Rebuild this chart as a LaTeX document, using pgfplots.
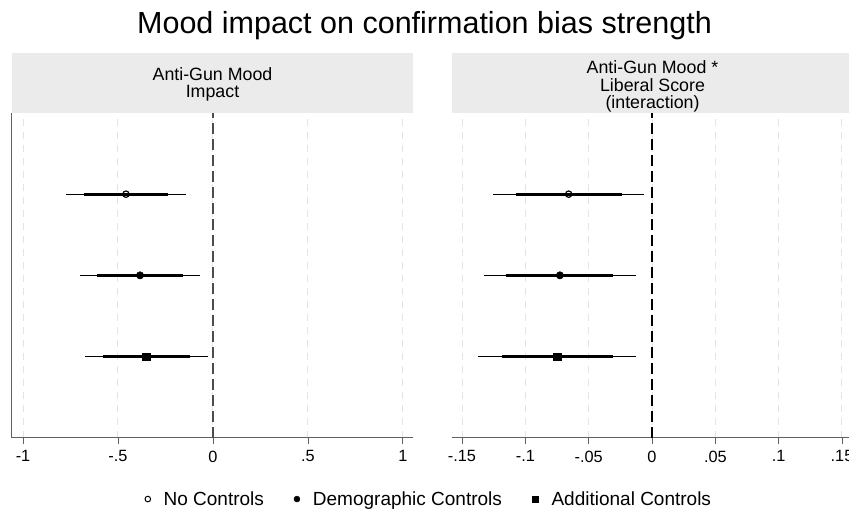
\documentclass[border=0pt]{standalone}
\usepackage{pgfplots}
\pgfplotsset{compat=1.18}
\usepackage{fontspec}
\setmainfont{Liberation Sans}
\definecolor{hdr}{HTML}{EBEBEB}
\definecolor{grd}{HTML}{E4E4E4}
\definecolor{axc}{HTML}{606060}
\definecolor{thin}{HTML}{444444}
\pgfplotsset{
  coefax/.style={
    scale only axis, width=401pt, height=324.7pt,
    ymin=0, ymax=4, ytick=\empty,
    axis x line*=bottom,
    axis line style={axc, line width=1pt},
    xtick align=outside, major tick length=6pt,
    tick style={axc, line width=0.9pt},
    xmajorgrids,
    major grid style={grd, line width=1pt, dash pattern=on 7pt off 6pt},
    tick label style={font=\fontsize{16.3}{19}\selectfont, text=black},
    xticklabel style={yshift=-3.5pt},
    clip=false,
  },
  ci thin/.style={thin, line width=1.1pt, forget plot},
  ci thick/.style={black, line width=3pt, forget plot},
}
\begin{document}
\begin{tikzpicture}[x=1pt,y=1pt]
% left panel
\begin{axis}[coefax, name=ax1, at={(12pt,72.3pt)}, anchor=south west,
  xmin=-1.058, xmax=1.053,
  axis y line*=left,
  xtick={-1,-0.5,0,0.5,1}, xticklabels={-1,-.5,0,.5,1},
  legend columns=3,
  legend style={draw=none, fill=none, at={(1.040,-0.189)}, anchor=center,
    font=\fontsize{19}{22}\selectfont, column sep=11pt,
    /tikz/every even column/.append style={column sep=28pt}},
  legend image code/.code={\draw[#1] plot coordinates {(0pt,0pt)};},
]
\addlegendimage{only marks, mark=o, mark size=2.8pt, black, line width=1pt, mark options={fill=white}}
\addlegendimage{only marks, mark=*, mark size=3pt, black}
\addlegendimage{only marks, mark=square*, mark size=3.3pt, black}
\legend{No Controls, Demographic Controls, Additional Controls}
\addplot[forget plot, black!70, line width=1.6pt, dash pattern=on 10.5pt off 5.5pt] coordinates {(0,0) (0,4)};
% No Controls
\addplot[ci thin] coordinates {(-0.774,3) (-0.144,3)};
\addplot[ci thick] coordinates {(-0.679,3) (-0.235,3)};
\addplot[forget plot, only marks, mark=o, mark size=3.2pt, black, line width=1.2pt, mark options={fill=white}] coordinates {(-0.458,3)};
% Demographic Controls
\addplot[ci thin] coordinates {(-0.700,2) (-0.067,2)};
\addplot[ci thick] coordinates {(-0.609,2) (-0.160,2)};
\addplot[forget plot, only marks, mark=*, mark size=3.7pt, black] coordinates {(-0.384,2)};
% Additional Controls
\addplot[ci thin] coordinates {(-0.675,1) (-0.025,1)};
\addplot[ci thick] coordinates {(-0.579,1) (-0.123,1)};
\addplot[forget plot, only marks, mark=square*, mark size=3.8pt, black] coordinates {(-0.353,1)};
\end{axis}
% right panel
\begin{axis}[coefax, name=ax2, at={(452pt,72.3pt)}, anchor=south west,
  xmin=-0.1579, xmax=0.1587,
  axis y line=none,
  xtick={-0.15,-0.1,-0.05,0,0.05,0.1,0.15}, xticklabels={-.15,-.1,-.05,0,.05,.1,.15},
]
\addplot[forget plot, black, line width=1.3pt, dash pattern=on 10.5pt off 5.5pt] coordinates {(0,0) (0,4)};
\addplot[ci thin] coordinates {(-0.1255,3) (-0.0061,3)};
\addplot[ci thick] coordinates {(-0.1077,3) (-0.0234,3)};
\addplot[forget plot, only marks, mark=o, mark size=3.2pt, black, line width=1.2pt, mark options={fill=white}] coordinates {(-0.0658,3)};
\addplot[ci thin] coordinates {(-0.1330,2) (-0.0127,2)};
\addplot[ci thick] coordinates {(-0.1150,2) (-0.0308,2)};
\addplot[forget plot, only marks, mark=*, mark size=3.7pt, black] coordinates {(-0.0727,2)};
\addplot[ci thin] coordinates {(-0.1370,1) (-0.0127,1)};
\addplot[ci thick] coordinates {(-0.1187,1) (-0.0311,1)};
\addplot[forget plot, only marks, mark=square*, mark size=3.8pt, black] coordinates {(-0.0750,1)};
\end{axis}
% strip headers
\fill[hdr] (12,397) rectangle (413,456.7);
\fill[hdr] (452,397) rectangle (853,456.7);
\node[align=center, font=\fontsize{17.8}{17.3}\selectfont] at (212.5,425.3) {Anti-Gun Mood\\Impact};
\node[align=center, font=\fontsize{17.8}{17.3}\selectfont] at (652.5,423.3) {Anti-Gun Mood *\\Liberal Score\\(interaction)};
% title
\node[font=\fontsize{30.5}{34}\selectfont, anchor=base] at (424.5,476.7) {Mood impact on confirmation bias strength};
\pgfresetboundingbox
\useasboundingbox (0,0) rectangle (849,510);
\end{tikzpicture}
\end{document}
